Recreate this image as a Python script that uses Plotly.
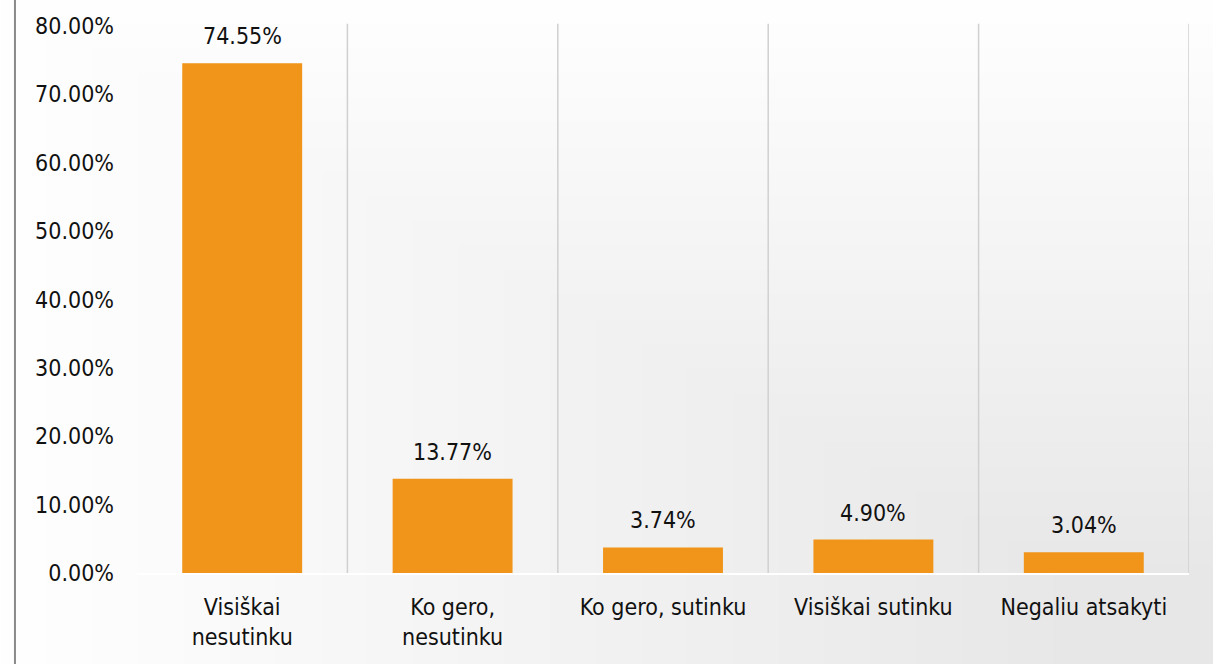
import plotly.graph_objects as go

categories = ["Visiškai<br>nesutinku", "Ko gero,<br>nesutinku", "Ko gero, sutinku",
              "Visiškai sutinku", "Negaliu atsakyti"]
values = [74.55, 13.77, 3.74, 4.90, 3.04]
labels = ["74.55%", "13.77%", "3.74%", "4.90%", "3.04%"]

ORANGE = "#f0951a"
FONT = "DejaVu Sans Condensed"

fig = go.Figure()
fig.add_trace(
    go.Bar(
        x=categories,
        y=values,
        marker=dict(color=ORANGE, line=dict(width=0)),
        width=0.57,
        hoverinfo="skip",
    )
)

# value labels a bit higher above the bars than plotly's default
for cat, val, lab in zip(categories, values, labels):
    fig.add_annotation(
        x=cat, y=val, text=lab, showarrow=False,
        yanchor="bottom", yshift=12,
        font=dict(size=23, color="#111111", family=FONT),
    )

# soft gradient towards the bottom-right corner
shapes = []
n = 24
for i in range(n):
    f = i / n
    shapes.append(
        dict(
            type="rect", xref="paper", yref="paper", layer="below",
            x0=-0.13 + 1.16 * f * 0.9, x1=1.03,
            y0=-0.17, y1=1.05 - 1.2 * f * 0.9,
            fillcolor="#000000", opacity=0.0035, line=dict(width=0),
        )
    )

# separators between categories
for i in range(len(categories)):
    shapes.append(
        dict(
            type="line", xref="x", yref="paper", layer="below",
            x0=i + 0.5, x1=i + 0.5, y0=0, y1=1.004,
            line=dict(color="#d0d0d0", width=1.5),
        )
    )

# left border
shapes.append(
    dict(
        type="line", xref="paper", yref="paper",
        x0=-0.116, x1=-0.116, y0=-0.2, y1=1.1,
        line=dict(color="#8a8a8a", width=2),
    )
)

fig.update_layout(
    width=1213,
    height=664,
    margin=dict(l=137, r=24, t=26, b=91),
    paper_bgcolor="#ffffff",
    plot_bgcolor="rgba(0,0,0,0)",
    font=dict(family=FONT, size=23, color="#111111"),
    showlegend=False,
    shapes=shapes,
    bargap=0.43,
)
fig.update_xaxes(
    showgrid=False,
    showline=True,
    linecolor="#ffffff",
    linewidth=2,
    ticks="",
    ticklabelstandoff=12,
    tickfont=dict(size=23),
    range=[-0.5, 4.5],
)
fig.update_yaxes(
    range=[0, 80],
    dtick=10,
    tickformat=".2f",
    ticksuffix="%",
    showgrid=False,
    zeroline=False,
    ticks="",
    ticklabelstandoff=22,
    tickfont=dict(size=23),
)

fig.write_html(
    "out.html",
    config={"displayModeBar": False},
    post_script="document.body.style.margin='0';document.body.style.overflow='hidden';",
)
